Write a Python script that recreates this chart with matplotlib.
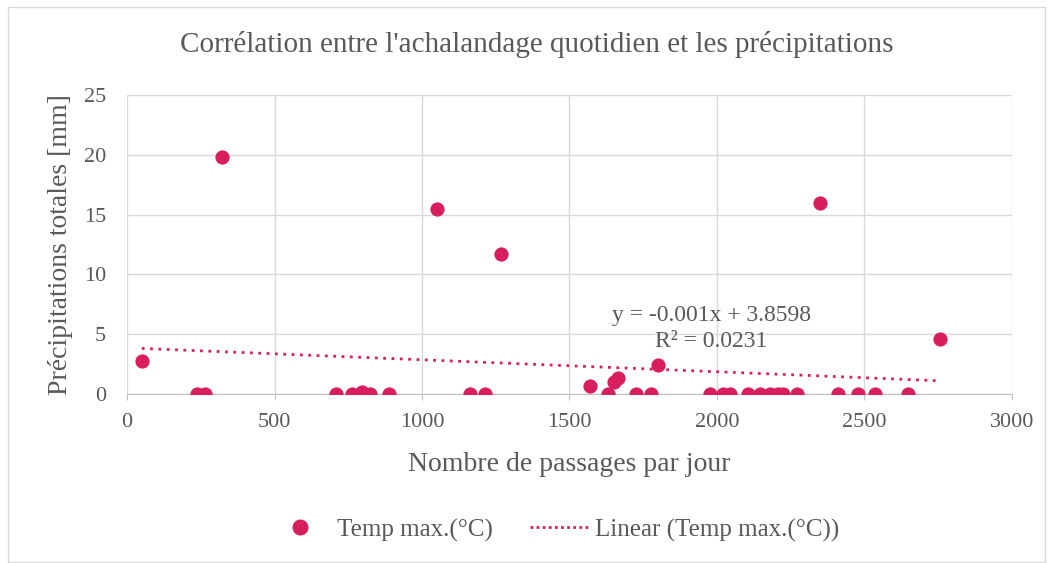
import numpy as np
import matplotlib
matplotlib.use("Agg")
import matplotlib.pyplot as plt
from matplotlib.patches import Rectangle
from matplotlib.lines import Line2D

# passages par jour / precipitations (mm)
passages = [50, 321, 1050, 1267, 2348, 2756, 1800, 1569, 1650, 1665,
            236, 264, 708, 762, 795, 824, 887, 1163, 1214,
            1629, 1727, 1775, 1976, 2020, 2044, 2106, 2146, 2180, 2208, 2224,
            2270, 2411, 2479, 2536, 2646]
precip = [2.8, 19.8, 15.5, 11.7, 16.0, 4.6, 2.4, 0.7, 1.0, 1.3,
          0, 0, 0, 0, 0.2, 0, 0, 0, 0,
          0, 0, 0, 0, 0, 0, 0, 0, 0, 0, 0,
          0, 0, 0, 0, 0]
slope, intercept = -0.001, 3.8598
r2 = 0.0231

pink = '#d81e5f'
grey = '#595959'
serif = 'Liberation Serif'

fig = plt.figure(figsize=(10.54, 5.63), dpi=100)
fig.patches.append(Rectangle((8/1054, 1-562/563), 1037/1054, 555/563,
                             transform=fig.transFigure, fill=False,
                             edgecolor='#d9d9d9', linewidth=1))

ax = fig.add_axes([127/1054, 1-394/563, 885/1054, 299/563])
ax.scatter(passages, precip, s=105, color=pink, zorder=3, linewidths=0)

xs = np.array([min(passages), max(passages)])
ax.plot(xs, slope*xs + intercept, linestyle=(0, (1, 2)), color=pink,
        linewidth=2, zorder=2)

ax.set_xlim(0, 3000)
ax.set_ylim(0, 25)
ax.set_xticks(range(0, 3001, 500))
ax.set_yticks(range(0, 26, 5))
ax.grid(True, color='#d9d9d9', linewidth=1)
ax.set_axisbelow(True)
for s in ['top', 'right', 'left']:
    ax.spines[s].set_visible(False)
ax.spines['bottom'].set_color('#bfbfbf')
ax.tick_params(axis='both', colors='#bfbfbf', length=4, labelcolor=grey,
               labelsize=16)
ax.tick_params(axis='x', pad=10)
ax.tick_params(axis='y', length=0, pad=15)
for lab in ax.get_xticklabels() + ax.get_yticklabels():
    lab.set_fontfamily(serif)

ax.set_xlabel('Nombre de passages par jour', fontsize=20, color=grey,
              fontfamily=serif, labelpad=14)
ax.set_ylabel('Précipitations totales [mm]', fontsize=20, color=grey,
              fontfamily=serif, labelpad=8)

fig.text(0.509, 1-45/563, "Corrélation entre l'achalandage quotidien et les précipitations",
         ha='center', va='center', fontsize=21, color=grey, fontfamily=serif)

ax.text(1980, 5.45, f'y = {slope}x + {intercept}\nR² = {r2}', ha='center',
        va='center', fontsize=17, color=grey, fontfamily=serif,
        linespacing=1.3)

handles = [Line2D([], [], marker='o', linestyle='none', color=pink,
                  markersize=10.5),
           Line2D([], [], linestyle=(0, (1, 1.2)), color=pink, linewidth=2)]
leg = fig.legend(handles, ['Temp max.(°C)', 'Linear (Temp max.(°C))'],
                 loc='center', bbox_to_anchor=(0.527, 1-530/563), ncol=2,
                 frameon=False, prop={'family': serif, 'size': 18},
                 handlelength=2.3, handletextpad=0.3, columnspacing=1.5)
for t in leg.get_texts():
    t.set_color(grey)

fig.savefig('out.png', dpi=100)
